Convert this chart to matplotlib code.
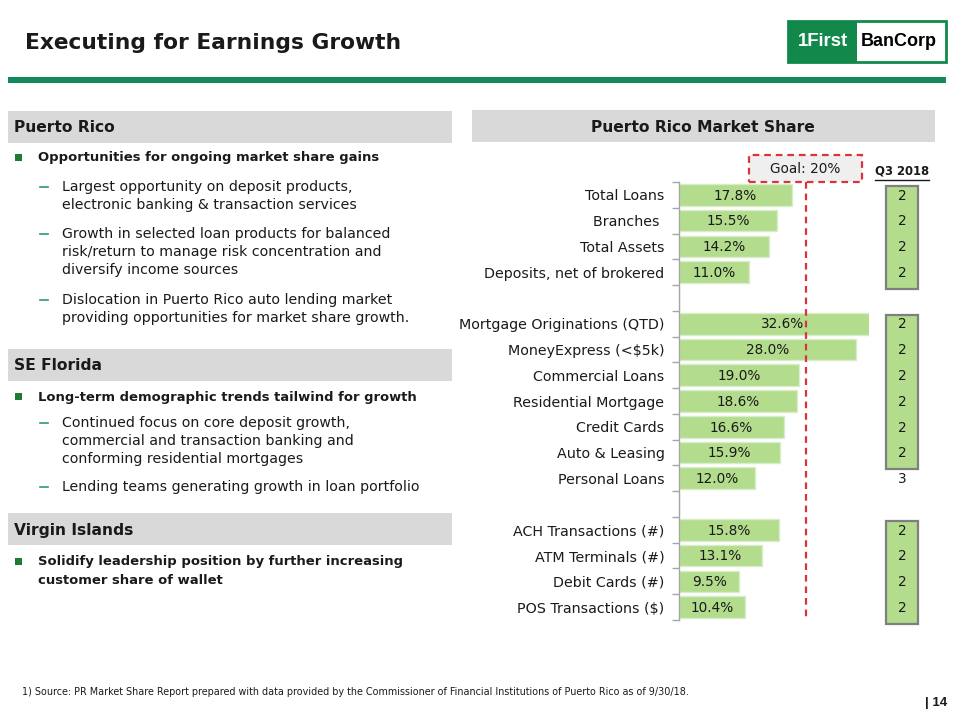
import matplotlib
matplotlib.use("Agg")
import matplotlib.pyplot as plt
from matplotlib.patches import Rectangle
from matplotlib.transforms import blended_transform_factory
import numpy as np

plt.rcParams['font.family'] = ['DejaVu Sans']

# ---------------- data ----------------
categories = ["Total Loans", "Branches ", "Total Assets", "Deposits, net of brokered", "",
              "Mortgage Originations (QTD)", "MoneyExpress (<$5k)", "Commercial Loans",
              "Residential Mortgage", "Credit Cards", "Auto & Leasing", "Personal Loans", "",
              "ACH Transactions (#)", "ATM Terminals (#)", "Debit Cards (#)", "POS Transactions ($)"]
share = [17.8, 15.5, 14.2, 11.0, None,
         32.6, 28.0, 19.0, 18.6, 16.6, 15.9, 12.0, None,
         15.8, 13.1, 9.5, 10.4]
rank_q3_2018 = [2, 2, 2, 2, None,
                2, 2, 2, 2, 2, 2, 3, None,
                2, 2, 2, 2]
goal = 20
x_max = 30

title = "Executing for Earnings Growth"
chart_title = "Puerto Rico Market Share"
rank_header = "Q3 2018"
footnote = ("1) Source: PR Market Share Report prepared with data provided by the Commissioner of "
            "Financial Institutions of Puerto Rico as of 9/30/18.")

# ---------------- styling ----------------
W, H = 960, 720
GREEN = '#138A5A'
LOGO_GREEN = '#12894A'
BAR = '#B3DC8C'
BAR_EDGE = '#D8EDCB'
RED = '#D9343C'
GRAY_BOX = '#D9D9D9'
TXT = '#1A1A1A'

fig = plt.figure(figsize=(W / 100, H / 100), dpi=100)
fig.patch.set_facecolor('white')


def fx(x):
    return x / W


def fy(y):
    return 1 - y / H


def frect(x0, y0, x1, y1, **kw):
    r = Rectangle((fx(x0), fy(y1)), (x1 - x0) / W, (y1 - y0) / H,
                  transform=fig.transFigure, **kw)
    fig.patches.append(r)
    return r


def ftext(x, y, s, **kw):
    kw.setdefault('color', TXT)
    kw.setdefault('va', 'center')
    return fig.text(fx(x), fy(y), s, **kw)


def fline(x0, y0, x1, y1, **kw):
    fig.add_artist(plt.Line2D([fx(x0), fx(x1)], [fy(y0), fy(y1)],
                              transform=fig.transFigure, **kw))


# ---------------- header ----------------
ftext(25, 43, title, fontsize=15.7, fontweight='bold', ha='left')
frect(8, 77, 946, 83, facecolor=GREEN, edgecolor='none')

# logo
frect(788, 21, 946, 62, facecolor='white', edgecolor=LOGO_GREEN, linewidth=2)
frect(788, 21, 857, 62, facecolor=LOGO_GREEN, edgecolor='none')
ftext(823, 41.5, "1First", fontsize=13.3, fontweight='bold', color='white', ha='center',
      family='Liberation Sans')
ftext(899, 41.5, "BanCorp", fontsize=13, fontweight='bold', color='black', ha='center',
      family='Liberation Sans')

# ---------------- left text panel ----------------
def section_header(y0, y1, text):
    frect(8, y0, 452, y1, facecolor=GRAY_BOX, edgecolor='none')
    ftext(14, (y0 + y1) / 2 + 1, text, fontsize=11.2, fontweight='bold', ha='left')


def bullet(y, lines):
    frect(15, y - 4, 22, y + 3, facecolor='#1E7B34', edgecolor='none')
    for k, ln in enumerate(lines):
        ftext(38, y + k * 18.5, ln, fontsize=9.45, fontweight='bold', ha='left')


def sub(y, lines):
    fline(40, y, 48, y, color='#2E9A6A', linewidth=1.2)
    for k, ln in enumerate(lines):
        ftext(62, y + k * 18.2, ln, fontsize=10.15, ha='left')


section_header(111, 143, "Puerto Rico")
bullet(158, ["Opportunities for ongoing market share gains"])
sub(187, ["Largest opportunity on deposit products,", "electronic banking & transaction services"])
sub(234, ["Growth in selected loan products for balanced",
          "risk/return to manage risk concentration and", "diversify income sources"])
sub(300, ["Dislocation in Puerto Rico auto lending market",
          "providing opportunities for market share growth."])

section_header(349, 381, "SE Florida")
bullet(397, ["Long-term demographic trends tailwind for growth"])
sub(423, ["Continued focus on core deposit growth,",
          "commercial and transaction banking and", "conforming residential mortgages"])
sub(487, ["Lending teams generating growth in loan portfolio"])

section_header(513, 545, "Virgin Islands")
bullet(562, ["Solidify leadership position by further increasing", "customer share of wallet"])

# ---------------- right chart ----------------
frect(472, 110, 935, 142, facecolor=GRAY_BOX, edgecolor='none')
ftext(703, 127, chart_title, fontsize=11.2, fontweight='bold', ha='center')

ax_l, ax_r, ax_t, ax_b = 679, 869, 182, 620
ax = fig.add_axes([fx(ax_l), fy(ax_b), (ax_r - ax_l) / W, (ax_b - ax_t) / H])
n = len(categories)
ypos = np.arange(n)
vals = np.array([np.nan if v is None else v for v in share], dtype=float)
ax.barh(ypos, np.nan_to_num(vals), height=0.84, color=BAR, edgecolor=BAR_EDGE, linewidth=1.0)
ax.set_xlim(0, x_max)
ax.set_ylim(n - 0.5, -0.5)
for i, v in enumerate(share):
    if v is not None:
        ax.text(v / 2, i + 0.03, f"{v:.1f}%", ha='center', va='center', fontsize=9.8,
                color=TXT, clip_on=False, zorder=5)

ax.set_yticks(ypos)
ax.set_yticklabels(categories, fontsize=10.3, color=TXT)
ax.set_yticks(np.arange(-0.5, n, 1.0), minor=True)
ax.tick_params(axis='y', which='major', length=0, pad=10.5)
ax.tick_params(axis='y', which='minor', length=5, color='#A6A6A6', width=1)
ax.set_xticks([])
for s in ['top', 'right', 'bottom']:
    ax.spines[s].set_visible(False)
ax.spines['left'].set_color('#A6A6A6')
ax.spines['left'].set_linewidth(1)
ax.set_facecolor('none')

# goal line and goal box
ax.vlines(goal, -0.5, n - 0.6, colors=RED, linestyles=(0, (3, 2.2)), linewidth=1.6,
          clip_on=False, zorder=4)
bt = blended_transform_factory(ax.transData, ax.transAxes)
box_w = 113 / ((ax_r - ax_l) / x_max)
gbox = Rectangle((goal - box_w / 2, 1.0), box_w, 27 / (ax_b - ax_t), transform=bt,
                 facecolor='#EFEFEF', edgecolor=RED, linestyle=(0, (3, 2.2)), linewidth=1.6,
                 clip_on=False)
ax.add_patch(gbox)
ax.text(goal, 1.0 + 13.5 / (ax_b - ax_t), f"Goal: {goal}%", transform=bt, ha='center',
        va='center', fontsize=9.8, color=TXT, clip_on=False)

# rank column
rx0, rx1 = 886, 918
rax = fig.add_axes([fx(rx0), fy(ax_b), (rx1 - rx0) / W, (ax_b - ax_t) / H])
rax.set_xlim(0, 1)
rax.set_ylim(n - 0.5, -0.5)
rax.axis('off')
# boxes around consecutive runs of #2 ranks
runs = []
start = None
for i, r in enumerate(rank_q3_2018 + [None]):
    hl = r is not None and r <= 2
    if hl and start is None:
        start = i
    elif not hl and start is not None:
        runs.append((start, i - 1))
        start = None
for a, b in runs:
    rax.add_patch(Rectangle((0, a - 0.34), 1, (b - a) + 0.98, facecolor=BAR,
                            edgecolor='#7F7F7F', linewidth=1.6, clip_on=False))
for i, r in enumerate(rank_q3_2018):
    if r is not None:
        rax.text(0.5, i + 0.03, str(r), ha='center', va='center', fontsize=9.8, color=TXT,
                 clip_on=False)

ftext(902, 171, rank_header, fontsize=8.4, fontweight='bold', ha='center')
fline(875, 180, 929, 180, color=TXT, linewidth=1)

# ---------------- footer ----------------
ftext(22, 692, footnote, fontsize=6.95, ha='left')
ftext(925, 703, "| 14", fontsize=9.5, fontweight='bold', ha='left', family='Liberation Sans')

fig.savefig("out.png", dpi=100)
